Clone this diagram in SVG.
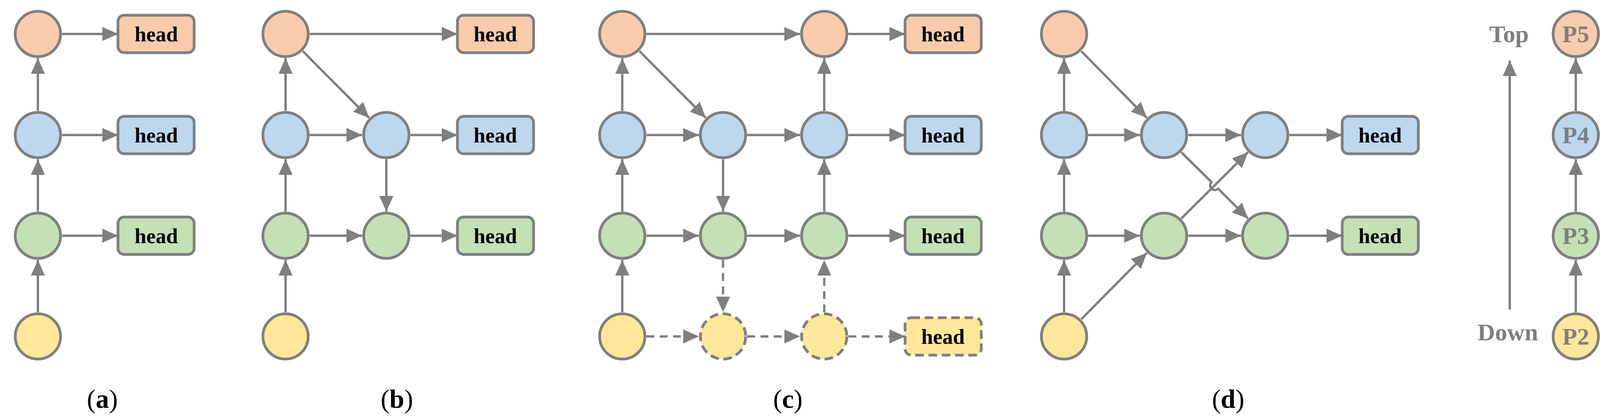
<svg xmlns="http://www.w3.org/2000/svg" width="4112" height="1071" viewBox="0 0 4112 1071">
<style>
.n{stroke:#7f7f7f;stroke-width:7}
.o{fill:#f8cbad}.b{fill:#bdd7ee}.g{fill:#c5e0b4}.y{fill:#ffe699}
.d{stroke-dasharray:22 12}
.c line,.c path{stroke:#7f7f7f;stroke-width:6;fill:none;marker-end:url(#ar)}
.c .ds{stroke-dasharray:20 14}
.h{font-family:"Liberation Serif",serif;font-weight:bold;font-size:54px;text-anchor:middle;fill:#000}
.p{font-family:"Liberation Serif",serif;font-weight:bold;font-size:62px;text-anchor:middle;fill:#7f7f7f}
.l{font-family:"Liberation Serif",serif;font-size:68px;text-anchor:middle;fill:#000}
</style>
<defs>
<marker id="ar" markerUnits="userSpaceOnUse" markerWidth="42" markerHeight="36" refX="40" refY="18" orient="auto"><path d="M0,0L40,18L0,36z" fill="#7f7f7f"/></marker>
</defs>
<g class="c" id="connectors">
<!-- a -->
<line x1="97" y1="800" x2="97" y2="666"/><line x1="97" y1="542" x2="97" y2="408"/><line x1="97" y1="284" x2="97" y2="149"/>
<line x1="159" y1="87" x2="302" y2="87"/><line x1="159" y1="346" x2="302" y2="346"/><line x1="159" y1="604" x2="302" y2="604"/>
<!-- b -->
<line x1="731" y1="800" x2="731" y2="666"/><line x1="731" y1="542" x2="731" y2="408"/><line x1="731" y1="284" x2="731" y2="149"/>
<line x1="793" y1="87" x2="1171" y2="87"/><line x1="775" y1="131" x2="945" y2="302"/>
<line x1="793" y1="346" x2="927" y2="346"/><line x1="1051" y1="346" x2="1171" y2="346"/>
<line x1="989" y1="408" x2="989" y2="542"/>
<line x1="793" y1="604" x2="927" y2="604"/><line x1="1051" y1="604" x2="1171" y2="604"/>
<!-- c -->
<line x1="1593" y1="800" x2="1593" y2="666"/><line x1="1593" y1="542" x2="1593" y2="408"/><line x1="1593" y1="284" x2="1593" y2="149"/>
<line x1="1655" y1="87" x2="2048" y2="87"/><line x1="2172" y1="87" x2="2317" y2="87"/><line x1="1637" y1="131" x2="1807" y2="302"/>
<line x1="1655" y1="346" x2="1789" y2="346"/><line x1="1913" y1="346" x2="2048" y2="346"/><line x1="2172" y1="346" x2="2317" y2="346"/>
<line x1="1851" y1="408" x2="1851" y2="542"/>
<line x1="1655" y1="604" x2="1789" y2="604"/><line x1="1913" y1="604" x2="2048" y2="604"/><line x1="2172" y1="604" x2="2317" y2="604"/>
<line x1="2110" y1="542" x2="2110" y2="408"/><line x1="2110" y1="284" x2="2110" y2="149"/>
<line class="ds" x1="1851" y1="666" x2="1851" y2="800"/><line class="ds" x1="2110" y1="800" x2="2110" y2="666"/>
<line class="ds" x1="1655" y1="862" x2="1789" y2="862"/><line class="ds" x1="1913" y1="862" x2="2048" y2="862"/><line class="ds" x1="2172" y1="862" x2="2317" y2="862"/>
<!-- d -->
<line x1="2724" y1="800" x2="2724" y2="666"/><line x1="2724" y1="542" x2="2724" y2="408"/><line x1="2724" y1="284" x2="2724" y2="149"/>
<line x1="2768" y1="131" x2="2936" y2="302"/>
<line x1="2786" y1="346" x2="2918" y2="346"/><line x1="2786" y1="604" x2="2918" y2="604"/>
<line x1="2768" y1="818" x2="2936" y2="648"/>
<line x1="3042" y1="346" x2="3177" y2="346"/><line x1="3042" y1="604" x2="3177" y2="604"/>
<line x1="3301" y1="346" x2="3436" y2="346"/><line x1="3301" y1="604" x2="3436" y2="604"/>
<path d="M3024,390L3101.5,466.5A12,12 0 0 0 3118.5,483.5L3195,560"/>
<line x1="3024" y1="560" x2="3195" y2="390"/>
<!-- legend -->
<line x1="3865" y1="793" x2="3865" y2="155"/>
<line x1="4034" y1="800" x2="4034" y2="666"/><line x1="4034" y1="542" x2="4034" y2="408"/><line x1="4034" y1="284" x2="4034" y2="149"/>
</g>
<g id="a">
<circle class="n o" cx="97" cy="87" r="58"/><circle class="n b" cx="97" cy="346" r="58"/><circle class="n g" cx="97" cy="604" r="58"/><circle class="n y" cx="97" cy="862" r="58"/>
<rect class="n o" x="302" y="39" width="195" height="96" rx="16"/><text class="h" x="400" y="106">head</text>
<rect class="n b" x="302" y="298" width="195" height="96" rx="16"/><text class="h" x="400" y="365">head</text>
<rect class="n g" x="302" y="556" width="195" height="96" rx="16"/><text class="h" x="400" y="623">head</text>
<text class="l" x="262" y="1045">(<tspan font-weight="bold">a</tspan>)</text>
</g>
<g id="b">
<circle class="n o" cx="731" cy="87" r="58"/><circle class="n b" cx="731" cy="346" r="58"/><circle class="n g" cx="731" cy="604" r="58"/><circle class="n y" cx="731" cy="862" r="58"/>
<circle class="n b" cx="989" cy="346" r="58"/><circle class="n g" cx="989" cy="604" r="58"/>
<rect class="n o" x="1171" y="39" width="195" height="96" rx="16"/><text class="h" x="1268" y="106">head</text>
<rect class="n b" x="1171" y="298" width="195" height="96" rx="16"/><text class="h" x="1268" y="365">head</text>
<rect class="n g" x="1171" y="556" width="195" height="96" rx="16"/><text class="h" x="1268" y="623">head</text>
<text class="l" x="1016" y="1045">(<tspan font-weight="bold">b</tspan>)</text>
</g>
<g id="c">
<circle class="n o" cx="1593" cy="87" r="58"/><circle class="n b" cx="1593" cy="346" r="58"/><circle class="n g" cx="1593" cy="604" r="58"/><circle class="n y" cx="1593" cy="862" r="58"/>
<circle class="n b" cx="1851" cy="346" r="58"/><circle class="n g" cx="1851" cy="604" r="58"/><circle class="n y d" cx="1851" cy="862" r="58"/>
<circle class="n o" cx="2110" cy="87" r="58"/><circle class="n b" cx="2110" cy="346" r="58"/><circle class="n g" cx="2110" cy="604" r="58"/><circle class="n y d" cx="2110" cy="862" r="58"/>
<rect class="n o" x="2317" y="39" width="195" height="96" rx="16"/><text class="h" x="2414" y="106">head</text>
<rect class="n b" x="2317" y="298" width="195" height="96" rx="16"/><text class="h" x="2414" y="365">head</text>
<rect class="n g" x="2317" y="556" width="195" height="96" rx="16"/><text class="h" x="2414" y="623">head</text>
<rect class="n y d" x="2317" y="814" width="195" height="96" rx="16"/><text class="h" x="2414" y="881">head</text>
<text class="l" x="2017" y="1045">(<tspan font-weight="bold">c</tspan>)</text>
</g>
<g id="d">
<circle class="n o" cx="2724" cy="87" r="58"/><circle class="n b" cx="2724" cy="346" r="58"/><circle class="n g" cx="2724" cy="604" r="58"/><circle class="n y" cx="2724" cy="862" r="58"/>
<circle class="n b" cx="2980" cy="346" r="58"/><circle class="n g" cx="2980" cy="604" r="58"/>
<circle class="n b" cx="3239" cy="346" r="58"/><circle class="n g" cx="3239" cy="604" r="58"/>
<rect class="n b" x="3436" y="298" width="195" height="96" rx="16"/><text class="h" x="3533" y="365">head</text>
<rect class="n g" x="3436" y="556" width="195" height="96" rx="16"/><text class="h" x="3533" y="623">head</text>
<text class="l" x="3144" y="1045">(<tspan font-weight="bold">d</tspan>)</text>
</g>
<g id="legend">
<text class="p" x="3863" y="108">Top</text>
<text class="p" x="3860" y="872">Down</text>
<circle class="n o" cx="4034" cy="87" r="58"/><text class="p" x="4034" y="108">P5</text>
<circle class="n b" cx="4034" cy="346" r="58"/><text class="p" x="4034" y="367">P4</text>
<circle class="n g" cx="4034" cy="604" r="58"/><text class="p" x="4034" y="625">P3</text>
<circle class="n y" cx="4034" cy="862" r="58"/><text class="p" x="4034" y="883">P2</text>
</g>
</svg>
